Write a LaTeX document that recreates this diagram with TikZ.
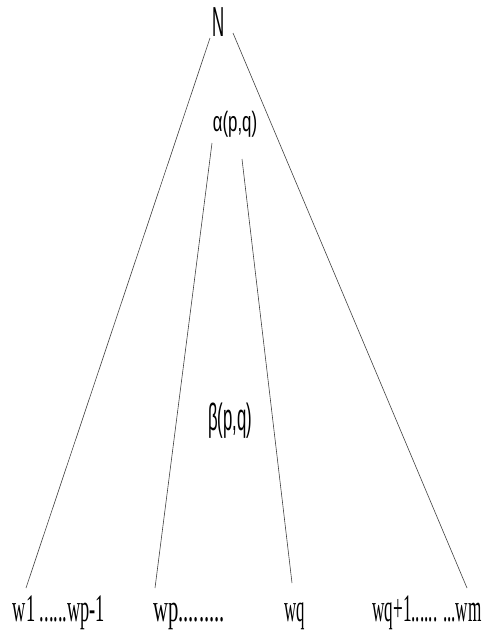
\documentclass[tikz,border=0pt]{standalone}
\usepackage{fontspec}
\setmainfont{Liberation Serif}
\setsansfont{Liberation Sans}
\usepackage{tikz}

\begin{document}
\begin{tikzpicture}[x=1pt, y=-1pt,
            word/.style={inner sep=0pt, anchor=base, font=\fontsize{39}{39}\selectfont},
            sym/.style={inner sep=0pt, font=\sffamily\fontsize{28}{28}\selectfont},
            branch/.style={draw=black!75, line width=0.6pt}
        ]

    \useasboundingbox (0,0) rectangle (483,632);

    \node[sym, font=\sffamily\fontsize{42}{42}\selectfont] (N) at (219,22) {\scalebox{0.4}[1]{N}};
    \node[sym] (alpha) at (235,124) {\scalebox{0.6}[1]{α(p,q)}};
    \node[sym, font=\sffamily\fontsize{38}{38}\selectfont] (beta) at (230,421) {\scalebox{0.44}[1]{β(p,q)}};

    \node[word] (w1) at (59,621)  {\scalebox{0.47}[1]{w1 ......wp-1}};
    \node[word] (wp) at (189,621) {\scalebox{0.53}[1]{wp.........}};
    \node[word] (wq) at (295,621) {\scalebox{0.43}[1]{wq}};
    \node[word] (wm) at (427,621) {\scalebox{0.44}[1]{wq+1...... ...wm}};

    \coordinate (N-l) at (210,38);
    \coordinate (N-r) at (233,33);
    \coordinate (alpha-l) at (212,143);
    \coordinate (alpha-r) at (242,159);
    \coordinate (w1-top) at (26,588);
    \coordinate (wp-top) at (155,588);
    \coordinate (wq-top) at (292,583);
    \coordinate (wm-top) at (467,588);

    \draw[branch] (N-l) -- (w1-top);
    \draw[branch] (N-r) -- (wm-top);
    \draw[branch] (alpha-l) -- (wp-top);
    \draw[branch] (alpha-r) -- (wq-top);

\end{tikzpicture}
\end{document}
